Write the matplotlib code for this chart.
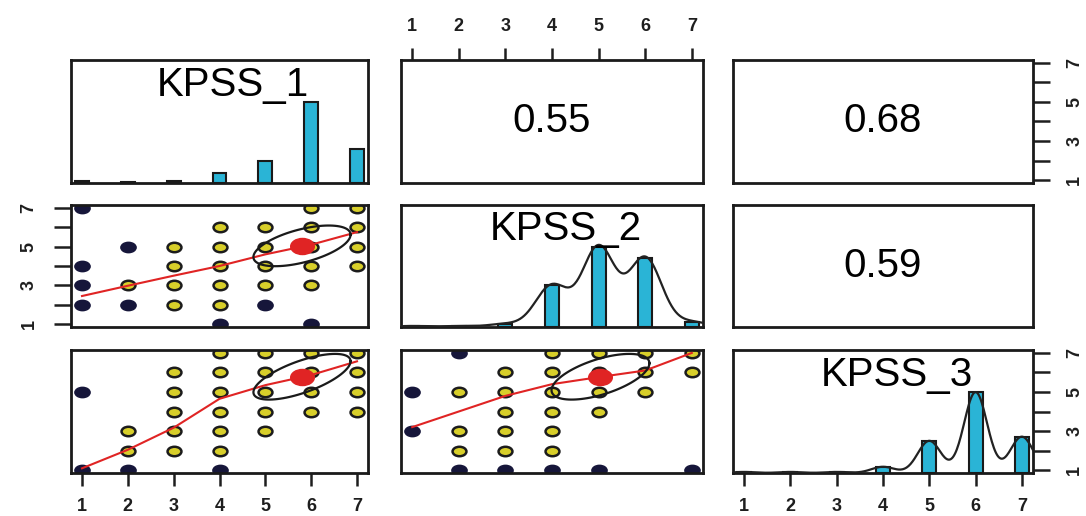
import numpy as np
import matplotlib.pyplot as plt
from matplotlib.path import Path
from matplotlib.transforms import Affine2D

names = ["KPSS_1", "KPSS_2", "KPSS_3"]
levels = [1, 2, 3, 4, 5, 6, 7]

# histogram heights on the diagonal
hist_1 = [2, 1, 2, 10, 23, 83, 35]
hist_2 = [1, 1, 3, 41, 79, 68, 5]
hist_3 = [1, 1, 1, 6, 31, 78, 35]
bw_2 = 0.35
bw_3 = 0.25

# correlations in upper panels
r_12 = 0.55
r_13 = 0.68
r_23 = 0.59

means = [5.8, 5.04, 5.78]
sds = [1.06, 1.05, 1.17]

# scatter points (x, y, dark?)
sc_21_x = [1, 1, 1, 1, 2, 2, 2, 3, 3, 3, 3, 4, 4, 4, 4, 4, 4, 5, 5, 5, 5, 5, 6, 6, 6, 6, 6, 6, 7, 7, 7, 7]
sc_21_y = [7, 4, 3, 2, 5, 3, 2, 5, 4, 3, 2, 6, 5, 4, 3, 2, 1, 6, 5, 4, 3, 2, 7, 6, 5, 4, 3, 1, 7, 6, 5, 4]
sc_21_d = [1, 1, 1, 1, 1, 0, 1, 0, 0, 0, 0, 0, 0, 0, 0, 0, 1, 0, 0, 0, 0, 1, 0, 0, 0, 0, 0, 1, 0, 0, 0, 0]

sc_31_x = [1, 1, 2, 2, 2, 3, 3, 3, 3, 3, 4, 4, 4, 4, 4, 4, 4, 5, 5, 5, 5, 5, 6, 6, 6, 6, 7, 7, 7, 7]
sc_31_y = [5, 1, 3, 2, 1, 6, 5, 4, 3, 2, 7, 6, 5, 4, 3, 2, 1, 7, 6, 5, 4, 3, 7, 6, 5, 4, 7, 6, 5, 4]
sc_31_d = [1, 1, 0, 0, 1, 0, 0, 0, 0, 0, 0, 0, 0, 0, 0, 0, 1, 0, 0, 0, 0, 0, 0, 0, 0, 0, 0, 0, 0, 0]

sc_32_x = [1, 1, 2, 2, 2, 2, 2, 3, 3, 3, 3, 3, 3, 4, 4, 4, 4, 4, 4, 4, 5, 5, 5, 5, 5, 6, 6, 6, 7, 7, 7]
sc_32_y = [5, 3, 7, 5, 3, 2, 1, 6, 5, 4, 3, 2, 1, 7, 6, 5, 4, 3, 2, 1, 7, 6, 5, 4, 1, 7, 6, 5, 7, 6, 1]
sc_32_d = [1, 1, 1, 0, 0, 0, 1, 0, 0, 0, 0, 0, 1, 0, 0, 0, 0, 0, 0, 1, 0, 0, 0, 0, 1, 0, 0, 0, 0, 0, 1]

# smoother lines read at x = 1..7
fit_21 = [2.45, 2.98, 3.5, 4.0, 4.6, 5.1, 5.75]
fit_31 = [1.09, 2.04, 3.17, 4.65, 5.35, 5.87, 6.57]
fit_32 = [3.2, 4.0, 4.8, 5.4, 5.76, 6.1, 7.0]

W, H = 1086, 516
cols = [(71, 368), (401, 703), (733, 1033)]
rows = [(60, 183), (205, 327), (350, 473)]
XL = (0.76, 7.24)
YL = (0.85, 7.15)

BAR = "#2ab4d6"
YEL = "#d8cf2a"
DARK = "#16163a"
RED = "#e02424"
TXT = "#1e1e1e"

oval = Path.unit_circle().transformed(Affine2D().scale(1.0, 0.68))

fig = plt.figure(figsize=(W / 100, H / 100), dpi=100)


def make_ax(r, c):
    x0, x1 = cols[c]
    y0, y1 = rows[r]
    ax = fig.add_axes([x0 / W, 1 - y1 / H, (x1 - x0) / W, (y1 - y0) / H])
    for s in ax.spines.values():
        s.set_linewidth(2.0)
        s.set_color("#1a1a1a")
    ax.set_xticks([])
    ax.set_yticks([])
    ax.set_xlim(XL)
    return ax


def style_ticks(ax, axis, side, labels_every):
    lab = [str(v) if (labels_every == 1 or v % 2 == 1) else "" for v in levels]
    if axis == "x":
        ax.set_xticks(levels)
        ax.set_xticklabels(lab)
        ax.xaxis.set_ticks_position(side)
        ax.xaxis.set_label_position(side)
        ax.tick_params(axis="x", length=9, width=1.8, pad=9, colors=TXT,
                       labelsize=13)
        for t in ax.get_xticklabels():
            t.set_fontweight("bold")
            t.set_family("Liberation Sans")
    else:
        ax.set_yticks(levels)
        ax.set_yticklabels(lab, rotation=90, va="center")
        ax.yaxis.set_ticks_position(side)
        ax.tick_params(axis="y", length=12, width=1.8, pad=12, colors=TXT,
                       labelsize=13)
        for t in ax.get_yticklabels():
            t.set_fontweight("bold")
            t.set_family("Liberation Sans")


def hist_panel(ax, counts, name, bw=None):
    ax.bar(levels, counts, width=0.3, color=BAR, edgecolor="#1a1a1a", linewidth=1.5, zorder=2)
    top = max(counts) * 1.52
    if bw is not None:
        xs = np.linspace(XL[0], XL[1], 300)
        dens = np.zeros_like(xs)
        for lv, c in zip(levels, counts):
            dens += c * np.exp(-(xs - lv) ** 2 / (2 * bw ** 2))
        ax.plot(xs, dens, color="#222222", lw=1.6, zorder=3)
    ax.set_ylim(0, top)
    ax.text(0.545, 0.8, name, transform=ax.transAxes, ha="center", va="center",
            fontsize=29, family="Liberation Sans", color="black", zorder=4)


def cor_panel(ax, r):
    ax.set_ylim(YL)
    ax.text(0.5, 0.5, f"{r:.2f}", transform=ax.transAxes, ha="center", va="center",
            fontsize=29, family="Liberation Sans", color="black")


def scatter_panel(ax, xs, ys, dk, fit, ix, iy, r):
    ax.set_ylim(YL)
    for x, y, d in zip(xs, ys, dk):
        if d:
            ax.plot(x, y, marker=oval, ms=11, mfc=DARK, mec=DARK, mew=1, ls="none", zorder=2)
        else:
            ax.plot(x, y, marker=oval, ms=10, mfc=YEL, mec="#1c1c1c", mew=1.8, ls="none", zorder=2)
    ax.plot(levels, fit, color=RED, lw=1.5, zorder=3)
    t = np.linspace(0, 2 * np.pi, 100)
    ex = means[ix] + sds[ix] * np.cos(t)
    ey = means[iy] + sds[iy] * (r * np.cos(t) + np.sqrt(1 - r ** 2) * np.sin(t))
    ax.plot(ex, ey, color="#1a1a1a", lw=1.6, zorder=4)
    ax.plot(means[ix], means[iy], marker=oval, ms=17, mfc=RED, mec=RED, ls="none", zorder=5)


# row 1
ax11 = make_ax(0, 0)
hist_panel(ax11, hist_1, names[0])
ax12 = make_ax(0, 1)
cor_panel(ax12, r_12)
style_ticks(ax12, "x", "top", 1)
ax13 = make_ax(0, 2)
cor_panel(ax13, r_13)
style_ticks(ax13, "y", "right", 2)

# row 2
ax21 = make_ax(1, 0)
scatter_panel(ax21, sc_21_x, sc_21_y, sc_21_d, fit_21, 0, 1, r_12)
style_ticks(ax21, "y", "left", 2)
ax22 = make_ax(1, 1)
hist_panel(ax22, hist_2, names[1], bw_2)
ax23 = make_ax(1, 2)
cor_panel(ax23, r_23)

# row 3
ax31 = make_ax(2, 0)
scatter_panel(ax31, sc_31_x, sc_31_y, sc_31_d, fit_31, 0, 2, r_13)
style_ticks(ax31, "x", "bottom", 1)
ax32 = make_ax(2, 1)
scatter_panel(ax32, sc_32_x, sc_32_y, sc_32_d, fit_32, 1, 2, r_23)
ax33 = make_ax(2, 2)
hist_panel(ax33, hist_3, names[2], bw_3)
style_ticks(ax33, "x", "bottom", 1)
tw = ax33.twinx()
tw.set_ylim(YL)
for s in tw.spines.values():
    s.set_visible(False)
style_ticks(tw, "y", "right", 2)

fig.savefig("out.png", dpi=100)
